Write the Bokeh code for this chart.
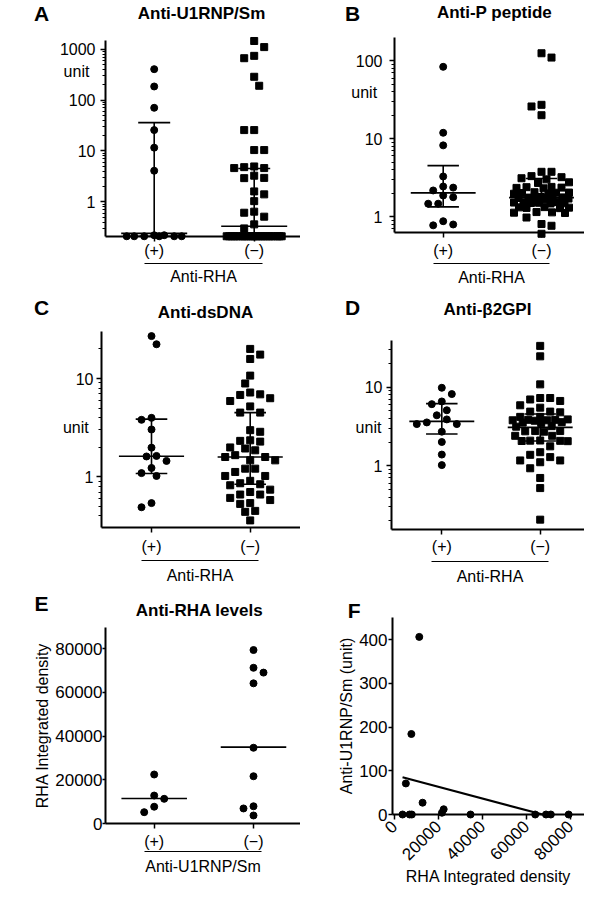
import numpy as np
from bokeh.plotting import figure
from bokeh.models import FixedTicker, LinearAxis, Label
from bokeh.layouts import column, row
from bokeh.embed import file_html
from bokeh.resources import INLINE

FONT = "Liberation Sans"

# ---------------------------------------------------------------- data
group_labels = ["(+)", "(\u2212)"]

# A: Anti-U1RNP/Sm (unit) by anti-RHA status
a_pos = [405, 185, 70.5, 25.7, 11.6, 4.08, 0.22, 0.22, 0.21, 0.21, 0.21, 0.21, 0.21, 0.21]
a_neg = [1450, 1100, 740, 665, 287, 191, 25.7, 25.7, 10.4, 10.4, 4.95, 4.8, 4.6, 4.6,
         3.26, 2.95, 2.92, 1.6, 1.4, 1.03, 0.64, 0.61, 0.51, 0.36, 0.30,
         0.21, 0.21, 0.21, 0.21, 0.21, 0.21, 0.21, 0.21, 0.21, 0.21, 0.21, 0.21,
         0.21, 0.21, 0.21, 0.21, 0.21, 0.21, 0.21, 0.21, 0.21, 0.21, 0.21]
a_median = [0.24, 0.33]
a_q1 = [0.21, 0.21]
a_q3 = [36, 4.5]
a_yticks = [1, 10, 100, 1000]
a_ylabels = ["1", "10", "100", "1000"]

# B: Anti-P peptide (unit)
b_pos = [83.7, 11.9, 8.2, 3.27, 2.43, 2.35, 2.16, 1.86, 1.77, 1.46, 1.46, 0.87, 0.79, 0.77]
b_neg = [125, 110, 27.2, 25.9, 20.0, 3.75, 3.75, 3.3, 3.2, 3.1, 3.0, 2.75, 2.7,
         2.4, 2.38, 2.35, 2.33, 2.3, 2.05, 2.03, 2.02, 2.0, 1.98, 1.96,
         1.78, 1.76, 1.75, 1.74, 1.73, 1.72, 1.70, 1.68,
         1.53, 1.52, 1.51, 1.50, 1.49, 1.48, 1.47,
         1.32, 1.31, 1.30, 1.29, 1.28, 1.14, 1.13, 1.12, 1.11, 0.97, 0.80, 0.76, 0.60]
b_median = [2.01, 1.75]
b_q1 = [1.33, 1.40]
b_q3 = [4.5, 3.08]
b_yticks = [1, 10, 100]
b_ylabels = ["1", "10", "100"]

# C: Anti-dsDNA (unit)
c_pos = [27.0, 22.3, 3.98, 3.8, 3.03, 1.98, 1.63, 1.61, 1.45, 1.23, 1.09, 1.02, 0.54, 0.49]
c_neg = [20.0, 17.5, 15.8, 10.7, 8.9, 7.2, 6.9, 6.8, 6.3, 5.9, 5.2, 4.5, 4.5,
         2.98, 2.87, 2.35, 2.32, 2.28, 1.99, 1.94, 1.86, 1.66, 1.59, 1.59, 1.47, 1.47,
         1.21, 1.21, 1.12, 1.02, 1.02, 0.91, 0.86, 0.84, 0.82, 0.74, 0.70,
         0.66, 0.66, 0.61, 0.58, 0.54, 0.53, 0.45, 0.44, 0.36]
c_median = [1.62, 1.59]
c_q1 = [1.08, 0.84]
c_q3 = [3.86, 4.5]
c_yticks = [1, 10]
c_ylabels = ["1", "10"]

# D: Anti-beta2GPI (unit)
d_pos = [9.86, 8.2, 6.6, 6.1, 5.1, 4.4, 3.9, 3.57, 3.4, 3.4, 2.72, 2.01, 1.39, 1.02]
d_neg = [33.7, 24.8, 10.9, 7.3, 7.3, 7.0, 6.7, 5.9, 5.5, 4.9, 4.9, 4.8, 4.2, 4.2,
         3.9, 3.85, 3.85, 3.8, 3.8, 3.75, 3.6, 3.55, 3.5, 3.2, 3.15,
         2.77, 2.77, 2.75, 2.72, 2.41, 2.41, 2.1, 2.09, 2.08, 2.07, 2.06,
         1.77, 1.49, 1.38, 1.29, 1.17, 1.17, 1.11, 0.93, 0.70, 0.52, 0.206]
d_median = [3.68, 3.09]
d_q1 = [2.54, 2.07]
d_q3 = [6.2, 4.56]
d_yticks = [1, 10]
d_ylabels = ["1", "10"]

# E: RHA integrated density by anti-U1RNP/Sm status
e_pos = [22500, 12900, 11400, 7800, 5300]
e_neg = [79300, 71200, 69000, 64100, 34700, 21700, 8000, 7000, 3800]
e_median = [11550, 35000]
e_yticks = [0, 20000, 40000, 60000, 80000]
e_ylabels = ["0", "20000", "40000", "60000", "80000"]

# F: RHA integrated density vs anti-U1RNP/Sm
f_x = [11400, 7800, 5300, 12900, 22500, 21700, 3800, 7000, 8000, 34700, 64100, 69000, 71200, 79300]
f_y = [406, 184, 71, 27, 12, 4, 0, 0, 0, 0, 0, 0, 0, 0]
f_xticks = [0, 20000, 40000, 60000, 80000]
f_xlabels = ["0", "20000", "40000", "60000", "80000"]
f_yticks = [0, 100, 200, 300, 400]
f_ylabels = ["0", "100", "200", "300", "400"]


# ---------------------------------------------------------------- page geometry
class PanelMap:
    """Maps page pixels <-> data for one figure whose frame fills the figure."""

    def __init__(self, fl, ft, w, h, xa, xb, ya, yb, ylog):
        self.fl, self.ft, self.w, self.h, self.ylog = fl, ft, w, h, ylog
        self.kx = (xb[1] - xa[1]) / (xb[0] - xa[0])
        self.x0v, self.x0p = xa
        self.ky = (yb[1] - ya[1]) / (self.t(yb[0]) - self.t(ya[0]))
        self.y0t, self.y0p = self.t(ya[0]), ya[1]

    def t(self, v):
        return np.log10(v) if self.ylog else np.asarray(v, dtype=float)

    def X(self, px):
        return float(self.x0v + (px - self.x0p) / self.kx)

    def Y(self, py):
        tv = self.y0t + (py - self.y0p) / self.ky
        return float(10 ** tv) if self.ylog else float(tv)

    def page_y(self, v):
        return self.y0p + (self.t(v) - self.y0t) * self.ky

    def xr(self):
        return (self.X(self.fl), self.X(self.fl + self.w))

    def yr(self):
        return (self.Y(self.ft + self.h), self.Y(self.ft))


M_A = PanelMap(8, 8, 300, 294, (1, 161.7), (2, 261.7), (1000, 56.7), (1, 209.3), True)
M_B = PanelMap(308, 8, 284, 294, (1, 450.7), (2, 549.0), (100, 68.3), (1, 224.0), True)
M_C = PanelMap(8, 302, 300, 296, (1, 159.0), (2, 257.7), (10, 386.0), (1, 484.3), True)
M_D = PanelMap(308, 302, 284, 296, (1, 449.3), (2, 547.7), (10, 394.8), (1, 473.3), True)
M_E = PanelMap(8, 598, 300, 298, (1, 161.7), (2, 261.0), (80000, 656.0), (0, 831.3), False)
M_F = PanelMap(308, 598, 284, 298, (0, 401.7), (80000, 577.7), (400, 647.0), (0, 822.0), False)


def swarm_offsets(values, m, step=5.0, dmin=9.0, cap=27.5):
    v = np.asarray(values, dtype=float)
    ypx = m.page_y(v)
    order = np.argsort(-v, kind="stable")
    placed = []
    off = np.zeros(len(v))
    side = 1.0
    nsteps = int(cap // step)
    fine = np.arange(-cap, cap + 0.001, 0.5)
    for i in order:
        y = ypx[i]
        cands = [0.0]
        for k in range(1, nsteps + 1):
            cands += [side * k * step, -side * k * step]
        chosen = None
        for c in cands:
            if all((c - px) ** 2 + (y - py) ** 2 >= dmin ** 2 for px, py in placed):
                chosen = c
                break
        if chosen is None:
            dists = [min((c - px) ** 2 + (y - py) ** 2 for px, py in placed) for c in fine]
            chosen = float(fine[int(np.argmax(dists))])
        if chosen * side > 0:
            side = -side
        placed.append((chosen, y))
        off[i] = chosen
    return off / m.kx


def make_fig(m):
    p = figure(width=m.w, height=m.h, x_range=m.xr(), y_range=m.yr(),
               y_axis_type="log" if m.ylog else "linear", title=None,
               output_backend="svg", toolbar_location=None, min_border=0)
    p.grid.visible = False
    p.outline_line_color = None
    p.background_fill_color = "white"
    p.border_fill_color = "white"
    return p


def style_axis(ax, fs):
    ax.axis_line_width = 2
    ax.axis_line_color = "black"
    ax.major_tick_line_width = 1.5
    ax.minor_tick_line_width = 1.2
    ax.major_tick_line_color = "black"
    ax.minor_tick_line_color = "black"
    ax.major_tick_in = 0
    ax.minor_tick_in = 0
    ax.major_label_text_font = FONT
    ax.major_label_text_font_size = fs
    ax.major_label_text_color = "black"
    ax.axis_label_text_font = FONT
    ax.axis_label_text_font_style = "normal"
    ax.axis_label_text_font_size = "16px"
    ax.axis_label_text_color = "black"


def add_text(p, m, px, py, text, size, bold=False):
    p.add_layout(Label(x=m.X(px), y=m.Y(py), text=text,
                       text_align="center", text_baseline="middle",
                       text_font=FONT, text_font_size=size,
                       text_font_style="bold" if bold else "normal",
                       text_color="black"))


def frame_axes(p, m, L, R, T, B):
    xa = p.xaxis[0]
    xa.fixed_location = m.Y(B)
    xa.bounds = (m.X(L), m.X(R))
    ya = p.yaxis[0]
    ya.fixed_location = m.X(L)
    ya.bounds = (m.Y(B), m.Y(T))
    return xa, ya


def category_axes(p, m, xa, U, group_title, label_standoff, ul_standoff):
    style_axis(xa, "16px")
    xa.ticker = FixedTicker(ticks=[1, 2])
    xa.major_label_overrides = {1: group_labels[0], 2: group_labels[1]}
    xa.major_tick_out = 5
    xa.major_label_standoff = int(label_standoff)
    ua = LinearAxis(ticker=FixedTicker(ticks=[]), bounds=(0.9, 2.08), axis_label=group_title)
    style_axis(ua, "16px")
    ua.fixed_location = m.Y(U)
    ua.axis_line_width = 1.2
    ua.major_tick_out = 0
    ua.minor_tick_out = 0
    ua.axis_label_standoff = int(ul_standoff)
    p.add_layout(ua, "below")


def summary_lines(p, med, q1=None, q3=None):
    cats = [1, 2]
    p.segment(x0=[c - 0.33 for c in cats], x1=[c + 0.33 for c in cats], y0=med, y1=med,
              line_color="black", line_width=1.6)
    if q1 is not None:
        p.segment(x0=cats, x1=cats, y0=q1, y1=q3, line_color="black", line_width=1.6)
        p.segment(x0=[c - 0.16 for c in cats], x1=[c + 0.16 for c in cats], y0=q1, y1=q1,
                  line_color="black", line_width=1.6)
        p.segment(x0=[c - 0.16 for c in cats], x1=[c + 0.16 for c in cats], y0=q3, y1=q3,
                  line_color="black", line_width=1.6)


def log_panel(m, box, U, pos, neg, med, q1, q3, yticks, ylabels, letter, title,
              letter_xy, title_xy, unit_xy, label_standoff, ul_standoff, ystandoff=5):
    L, R, T, B = box
    p = make_fig(m)
    xa, ya = frame_axes(p, m, L, R, T, B)
    category_axes(p, m, xa, U, "Anti-RHA", label_standoff, ul_standoff)
    style_axis(ya, "16px")
    lo, hi = m.Y(B), m.Y(T)
    minors = [mm * 10.0 ** k for k in range(-2, 5) for mm in range(2, 10)]
    minors = [v for v in minors if lo <= v <= hi]
    ya.ticker = FixedTicker(ticks=yticks, minor_ticks=minors)
    ya.major_label_overrides = dict(zip(yticks, ylabels))
    ya.major_tick_out = 5
    ya.minor_tick_out = 3
    ya.major_label_standoff = int(ystandoff)
    op = swarm_offsets(pos, m)
    on = swarm_offsets(neg, m)
    p.scatter(1 + op, pos, marker="circle", size=7, color="black")
    p.scatter(2 + on, neg, marker="square", size=7, color="black")
    summary_lines(p, med, q1, q3)
    add_text(p, m, letter_xy[0], letter_xy[1], letter, "21px", True)
    add_text(p, m, title_xy[0], title_xy[1], title, "17px", True)
    add_text(p, m, unit_xy[0], unit_xy[1], "unit", "16px")
    return p


pa = log_panel(M_A, (113, 308, 47.7, 244.3), 271.0, a_pos, a_neg, a_median, a_q1, a_q3,
               a_yticks, a_ylabels, "A", "Anti-U1RNP/Sm", (49, 21), (209, 21), (84, 79.3),
               0, 4)
pb = log_panel(M_B, (402, 592, 45.0, 240.0), 271.0, b_pos, b_neg, b_median, b_q1, b_q3,
               b_yticks, b_ylabels, "B", "Anti-P peptide", (360, 21), (502, 20), (371.7, 100),
               4, 5, ystandoff=7)
pc = log_panel(M_C, (109, 308, 339.3, 535.3), 567.7, c_pos, c_neg, c_median, c_q1, c_q3,
               c_yticks, c_ylabels, "C", "Anti-dsDNA", (49, 315), (213, 320), (83.3, 435.3),
               5, 6, ystandoff=3)
pd_ = log_panel(M_D, (399, 592, 347.7, 536.5), 569.3, d_pos, d_neg, d_median, d_q1, d_q3,
                d_yticks, d_ylabels, "D", "Anti-\u03b22GPI", (360, 315), (495, 317), (376, 434.7),
                4, 6, ystandoff=4)

# ---------------- E
pe = make_fig(M_E)
xa, ya = frame_axes(pe, M_E, 113, 308, 634.7, 831.3)
category_axes(pe, M_E, xa, 858.7, "Anti-U1RNP/Sm", 4, 6)
style_axis(ya, "17px")
ya.ticker = FixedTicker(ticks=e_yticks)
ya.major_label_overrides = dict(zip(e_yticks, e_ylabels))
ya.major_tick_out = 3
ya.major_label_standoff = 0
ya.axis_label = "RHA Integrated density"
ya.axis_label_standoff = 1
op = swarm_offsets(e_pos, M_E)
on = swarm_offsets(e_neg, M_E)
pe.scatter(1 + op, e_pos, marker="circle", size=7, color="black")
pe.scatter(2 + on, e_neg, marker="circle", size=7, color="black")
summary_lines(pe, e_median)
add_text(pe, M_E, 49, 611, "E", "21px", True)
add_text(pe, M_E, 207, 618, "Anti-RHA levels", "17px", True)

# ---------------- F
pf = make_fig(M_F)
xa, ya = frame_axes(pf, M_F, 400, 592, 625.3, 822.0)
style_axis(xa, "17px")
xa.ticker = FixedTicker(ticks=f_xticks)
xa.major_label_overrides = dict(zip(f_xticks, f_xlabels))
xa.major_label_orientation = np.pi / 4
xa.major_tick_out = 5
xa.major_label_standoff = 4
xa.axis_label = "RHA Integrated density"
xa.axis_label_standoff = 0
style_axis(ya, "17px")
ya.ticker = FixedTicker(ticks=f_yticks)
ya.major_label_overrides = dict(zip(f_yticks, f_ylabels))
ya.major_tick_out = 4
ya.major_label_standoff = 1
ya.axis_label = "Anti-U1RNP/Sm (unit)"
ya.axis_label_standoff = 1
pf.scatter(f_x, f_y, marker="circle", size=7, color="black")
slope, intercept = np.polyfit(f_x, f_y, 1)
x0 = min(f_x)
x1 = min(max(f_x), -intercept / slope)
pf.line([x0, x1], [slope * x0 + intercept, slope * x1 + intercept], line_color="black", line_width=2.2)
add_text(pf, M_F, 361.7, 618, "F", "21px", True)

layout = column(row(pa, pb), row(pc, pd_), row(pe, pf))
open("out.html", "w").write(file_html(layout, INLINE))
